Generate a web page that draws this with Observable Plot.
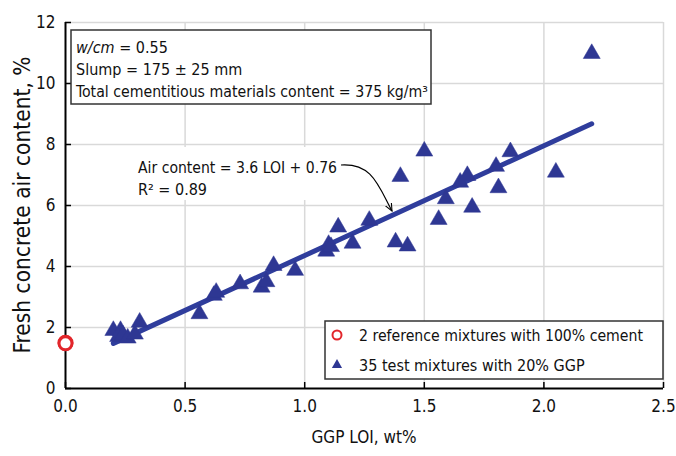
<!DOCTYPE html>
<html><head><meta charset="utf-8">
<script src="https://cdn.jsdelivr.net/npm/d3@7"></script>
<script src="https://cdn.jsdelivr.net/npm/@observablehq/plot@0.6"></script>
<style>
body{margin:0;background:#fff}
#chart svg{display:block}
</style>
</head><body><div id="chart"></div>
<script>
// ---- data ----
const xTicks = [0, 0.5, 1, 1.5, 2, 2.5];
const xTickLabels = ["0.0", "0.5", "1.0", "1.5", "2.0", "2.5"];
const yTicks = [0, 2, 4, 6, 8, 10, 12];
const testLoi = [0.20, 0.23, 0.22, 0.24, 0.26, 0.29, 0.31, 0.56, 0.62, 0.63, 0.73, 0.82, 0.84, 0.87, 0.96,
  1.09, 1.10, 1.11, 1.14, 1.20, 1.27, 1.38, 1.40, 1.43, 1.50, 1.56, 1.59, 1.65, 1.68, 1.70, 1.80, 1.81, 1.86, 2.05, 2.20];
const testAir = [1.90, 1.90, 1.70, 1.75, 1.65, 1.78, 2.17, 2.45, 3.05, 3.15, 3.43, 3.32, 3.50, 4.03, 3.87,
  4.50, 4.72, 4.65, 5.29, 4.76, 5.51, 4.80, 6.95, 4.67, 7.78, 5.54, 6.22, 6.76, 6.98, 5.94, 7.28, 6.58, 7.76, 7.09, 10.98];
const refLoi = [0, 0];
const refAir = [1.5, 1.48];
const fitLoi = [0.2, 2.2];
const fitAir = [1.48, 8.68];
const boxLines = ["w/cm", " = 0.55", "Slump = 175 \u00b1 25 mm", "Total cementitious materials content = 375 kg/m\u00b3"];
const eqLines = ["Air content = 3.6 LOI + 0.76", "R\u00b2 = 0.89"];
const legendLabels = ["2 reference mixtures with 100% cement", "35 test mixtures with 20% GGP"];
const xTitle = "GGP LOI, wt%";
const yTitle = "Fresh concrete air content, %";

// ---- layout ----
const FONT = "'Liberation Sans Narrow','DejaVu Sans Condensed','Liberation Sans',sans-serif";
const W = 676, H = 456, mL = 65, mR = 13, mT = 22, mB = 68;
const blue = "#2e3793", lineBlue = "#2f3d9c", red = "#e2262b", grid = "#d9d9d9";
const FS = 16;

const tests = testLoi.map((x, i) => ({x, y: testAir[i]}));
const refs = refLoi.map((x, i) => ({x, y: refAir[i]}));
const fit = fitLoi.map((x, i) => ({x, y: fitAir[i]}));

const plot = Plot.plot({
  width: W, height: H,
  marginLeft: mL, marginRight: mR, marginTop: mT, marginBottom: mB,
  style: {fontFamily: FONT, fontSize: "17px", background: "#fff", color: "#111", overflow: "visible"},
  x: {domain: [0, 2.5]},
  y: {domain: [0, 12]},
  marks: [
    Plot.gridX(xTicks.filter(d => d > 0), {stroke: grid, strokeOpacity: 1, strokeWidth: 1.5}),
    Plot.gridY(yTicks.filter(d => d > 0), {stroke: grid, strokeOpacity: 1, strokeWidth: 1.5}),
    Plot.axisX(xTicks, {tickSize: 0, tickPadding: 11, tickFormat: d => xTickLabels[xTicks.indexOf(d)], label: null, fontSize: 17}),
    Plot.axisY(yTicks, {tickSize: 0, tickPadding: 10, label: null, fontSize: 17}),
    Plot.tickX(xTicks, {x: d => d, insetTop: H - mT - mB - 6, stroke: "#000", strokeWidth: 1.5}),
    Plot.tickY(yTicks, {y: d => d, insetRight: W - mL - mR - 6, stroke: "#000", strokeWidth: 1.5}),
    Plot.ruleX([0], {stroke: "#000", strokeWidth: 2}),
    Plot.ruleY([0], {stroke: "#000", strokeWidth: 2}),
    Plot.line(fit, {x: "x", y: "y", stroke: lineBlue, strokeWidth: 5, strokeLinecap: "round"}),
    Plot.dot(tests, {x: "x", y: "y", symbol: "triangle", r: 6.3, fill: blue, stroke: blue, strokeWidth: 0.5}),
    Plot.dot(refs, {x: "x", y: "y", r: 6.5, stroke: red, strokeWidth: 3, fill: "#fff"})
  ]
});
document.getElementById("chart").appendChild(plot);

const svg = d3.select(plot);
// white backing behind equation text (hides gridlines), placed below data marks
svg.insert("rect", "g[aria-label='line']").attr("x", 132).attr("y", 147).attr("width", 212).attr("height", 53).attr("fill", "#fff");

const g = svg.append("g").attr("font-family", FONT).attr("fill", "#111").attr("text-anchor", "start");
function txt(x, y, s, len, fs = FS) {
  const t = g.append("text").attr("x", x).attr("y", y).attr("font-size", fs).text(s);
  if (len) t.attr("textLength", len).attr("lengthAdjust", "spacingAndGlyphs");
  return t;
}

// axis titles
g.append("text").attr("x", (mL + W - mR) / 2).attr("y", 443).attr("text-anchor", "middle")
  .attr("font-size", 17).text(xTitle);
g.append("text").attr("transform", `translate(30,${(mT + H - mB) / 2}) rotate(-90)`)
  .attr("text-anchor", "middle").attr("font-size", 22.5).text(yTitle);

// info box
g.append("rect").attr("x", 71).attr("y", 30).attr("width", 360).attr("height", 74)
  .attr("fill", "#fff").attr("stroke", "#333").attr("stroke-width", 1.5);
const t1 = g.append("text").attr("x", 76).attr("y", 53).attr("font-size", FS);
t1.append("tspan").attr("font-style", "italic").text(boxLines[0]);
t1.append("tspan").text(boxLines[1]);
txt(76, 75, boxLines[2]);
txt(76, 97, boxLines[3], 352);

// equation annotation
txt(138, 173, eqLines[0], 199);
txt(138, 195, eqLines[1]);
svg.append("defs").append("marker").attr("id", "ah").attr("viewBox", "0 0 10 10").attr("refX", 9).attr("refY", 5)
  .attr("markerWidth", 7).attr("markerHeight", 7).attr("orient", "auto")
  .append("path").attr("d", "M0,1 L9,5 L0,9").attr("fill", "none").attr("stroke", "#000").attr("stroke-width", 1.3);
g.append("path").attr("d", "M341,165 C372,163 378,185 392,211").attr("fill", "none")
  .attr("stroke", "#000").attr("stroke-width", 1.2).attr("marker-end", "url(#ah)");

// legend
g.append("rect").attr("x", 325).attr("y", 321).attr("width", 338).attr("height", 58)
  .attr("fill", "#fff").attr("stroke", "#333").attr("stroke-width", 1.5);
g.append("circle").attr("cx", 337).attr("cy", 335).attr("r", 4.5).attr("fill", "#fff").attr("stroke", red).attr("stroke-width", 2);
g.append("path").attr("transform", "translate(337,365)").attr("d", d3.symbol(d3.symbolTriangle, 45)()).attr("fill", blue);
txt(359, 341, legendLabels[0], 284);
txt(359, 371, legendLabels[1]);
</script>
</body></html>
